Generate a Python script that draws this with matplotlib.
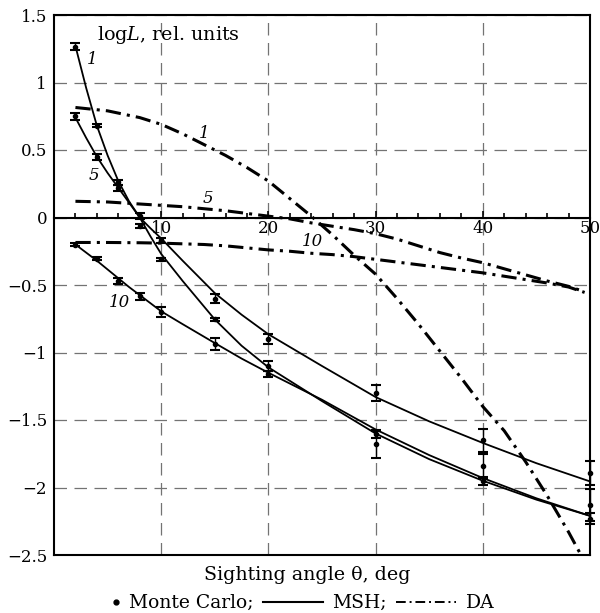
import matplotlib
matplotlib.use("Agg")
import matplotlib.pyplot as plt
import numpy as np
from matplotlib.lines import Line2D
from matplotlib.legend_handler import HandlerBase

plt.rcParams['font.family'] = ['DejaVu Serif']
plt.rcParams['mathtext.fontset'] = 'dejavuserif'

# Monte Carlo points (sighting angle, deg)
mc_x = [2, 4, 6, 8, 10, 15, 20, 30, 40, 50]
mc_1 = [1.265, 0.68, 0.26, -0.06, -0.31, -0.755, -1.10, -1.605, -1.95, -2.23]
err_1 = [0.025, 0.012, 0.02, 0.015, 0.012, 0.012, 0.04, 0.03, 0.03, 0.04]
mc_5 = [0.75, 0.45, 0.22, 0.01, -0.17, -0.60, -0.90, -1.30, -1.65, -1.89]
err_5 = [0.027, 0.023, 0.02, 0.02, 0.02, 0.03, 0.04, 0.06, 0.085, 0.09]
mc_10 = [-0.2, -0.305, -0.47, -0.585, -0.70, -0.94, -1.16, -1.68, -1.84, -2.13]
err_10 = [0.012, 0.012, 0.02, 0.025, 0.04, 0.045, 0.02, 0.10, 0.09, 0.12]

# MSH curves
msh_x = [2, 3, 4, 5, 6, 7, 8, 9, 10, 12, 15, 17.5, 20, 25, 30, 35, 40, 45, 50]
msh_1 = [1.27, 0.96, 0.68, 0.46, 0.27, 0.12, 0.0, -0.14, -0.27, -0.47, -0.755,
         -0.95, -1.11, -1.36, -1.60, -1.79, -1.95, -2.09, -2.21]
msh_5 = [0.74, 0.59, 0.45, 0.33, 0.22, 0.11, 0.0, -0.08, -0.155, -0.32, -0.56,
         -0.72, -0.865, -1.10, -1.33, -1.51, -1.67, -1.82, -1.955]
msh_10 = [-0.2, -0.26, -0.32, -0.385, -0.45, -0.515, -0.575, -0.635, -0.695, -0.79,
          -0.93, -1.045, -1.15, -1.35, -1.57, -1.76, -1.93, -2.08, -2.21]

# DA curves
da_x = [2, 5, 8, 10, 12, 14, 16, 18, 20, 22, 24, 26, 28, 30, 32, 34, 36, 38,
        40, 42, 44, 46, 48, 49.5]
da_1 = [0.815, 0.79, 0.74, 0.69, 0.62, 0.54, 0.46, 0.37, 0.27, 0.14, 0.01, -0.13,
        -0.28, -0.42, -0.60, -0.79, -0.99, -1.19, -1.40, -1.58, -1.81, -2.06,
        -2.33, -2.55]
da_5 = [0.12, 0.115, 0.10, 0.09, 0.08, 0.065, 0.05, 0.03, 0.01, -0.01, -0.04,
        -0.065, -0.09, -0.12, -0.16, -0.21, -0.26, -0.30, -0.335, -0.38, -0.425,
        -0.47, -0.51, -0.55]
da_10 = [-0.185, -0.185, -0.187, -0.19, -0.195, -0.20, -0.21, -0.225, -0.24,
         -0.25, -0.265, -0.275, -0.29, -0.31, -0.33, -0.35, -0.37, -0.39, -0.41,
         -0.435, -0.46, -0.485, -0.515, -0.555]

x_major = [10, 20, 30, 40, 50]
y_ticks = [1.5, 1, 0.5, 0, -0.5, -1, -1.5, -2, -2.5]
y_labels = ['1.5', '1', '0.5', '0', '\u22120.5', '\u22121', '\u22121.5', '\u22122', '\u22122.5']

da_style = (0, (5, 2, 1, 2))


class DotHandler(HandlerBase):
    # dot placed at the right end of the handle box, right before the text
    def create_artists(self, legend, orig_handle, xdescent, ydescent,
                       width, height, fontsize, trans):
        dot = Line2D([width - xdescent - 3], [height / 2 - ydescent],
                     marker='o', ms=3.5, color='k', ls='none', transform=trans)
        return [dot]


fig = plt.figure(figsize=(6, 6.13), dpi=100)
ax = fig.add_axes([54 / 600, 1 - 555 / 613, 536 / 600, 540 / 613])

ax.set_xlim(0, 50)
ax.set_ylim(-2.5, 1.5)

for spine in ax.spines.values():
    spine.set_linewidth(1.5)
ax.spines['bottom'].set_position(('data', 0))
ax.axhline(-2.5, color='k', lw=1.5, clip_on=False, zorder=3)

ax.set_xticks(x_major)
ax.set_xticks(np.arange(2, 50, 2), minor=True)
ax.set_yticks(y_ticks)
ax.set_yticklabels(y_labels)
ax.tick_params(axis='x', which='major', direction='in', length=5, width=1.2,
               labelsize=12, pad=2)
ax.tick_params(axis='x', which='minor', direction='in', length=3.5, width=1.2)
ax.tick_params(axis='y', length=0, labelsize=12, pad=5)

ax.grid(True, which='major', color='0.45', lw=0.9, linestyle=(0, (10, 6)))

# MSH
for yv in (msh_1, msh_5, msh_10):
    ax.plot(msh_x, yv, color='k', lw=1.3, zorder=4)

# DA
for yv in (da_1, da_5, da_10):
    ax.plot(da_x, yv, color='k', lw=2.2, linestyle=da_style, zorder=4)

# Monte Carlo
for yv, ev in ((mc_1, err_1), (mc_5, err_5), (mc_10, err_10)):
    cont = ax.errorbar(mc_x, yv, yerr=ev, fmt='o', ms=3, color='k', ecolor='k',
                       elinewidth=1, capsize=3.5, capthick=1.5, zorder=5)
    for art in cont.get_children():
        art.set_clip_on(False)

# curve labels
lab = dict(fontsize=12, style='italic', ha='center', va='center')
ax.text(3.6, 1.17, '1', **lab)
ax.text(3.7, 0.31, '5', **lab)
ax.text(6.1, -0.63, '10', **lab)
ax.text(14.0, 0.62, '1', **lab)
ax.text(14.4, 0.14, '5', **lab)
ax.text(24.1, -0.18, '10', **lab)

ax.text(4.0, 1.35, 'log$L$, rel. units', fontsize=13.8, ha='left', va='center')

ax.text(0.473, -0.037, 'Sighting angle \u03b8, deg', fontsize=13.7,
        ha='center', va='center', transform=ax.transAxes)

handles = [Line2D([], [], marker='o', color='k', ls='none'),
           Line2D([], [], color='k', lw=1.5),
           Line2D([], [], color='k', lw=1.4, linestyle=da_style)]
fig.legend(handles, ['Monte Carlo;', 'MSH;', 'DA'],
           handler_map={handles[0]: DotHandler()},
           loc='center', bbox_to_anchor=(0.462, 0.016), ncol=3, frameon=False,
           fontsize=13.5, handlelength=3.2, handletextpad=0.5, columnspacing=0.5,
           borderpad=0.1)

fig.savefig('out.png', dpi=100)
